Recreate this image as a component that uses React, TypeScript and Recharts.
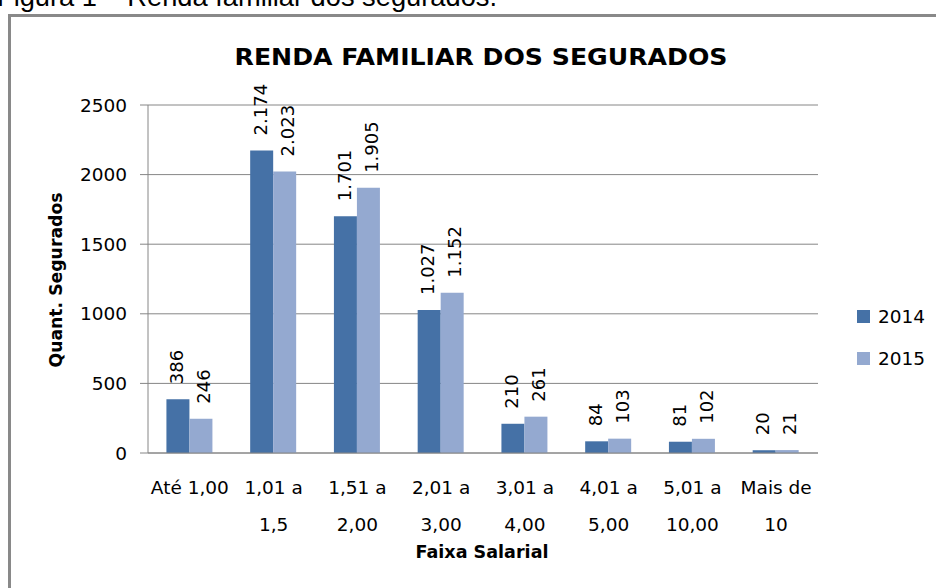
import React from 'react';
import { BarChart, Bar, XAxis, YAxis, CartesianGrid, Legend, LabelList } from 'recharts';

const categories = ['Até 1,00', '1,01 a|1,5', '1,51 a|2,00', '2,01 a|3,00', '3,01 a|4,00', '4,01 a|5,00', '5,01 a|10,00', 'Mais de|10'];
const series2014 = [386, 2174, 1701, 1027, 210, 84, 81, 20];
const series2015 = [246, 2023, 1905, 1152, 261, 103, 102, 21];
const yTicks = [0, 500, 1000, 1500, 2000, 2500];
const seriesNames = ['2014', '2015'];
const chartTitle = 'RENDA FAMILIAR DOS SEGURADOS';
const caption = 'Figura 1 – Renda familiar dos segurados.';
const yTitle = 'Quant. Segurados';
const xTitle = 'Faixa Salarial';

const COLORS = ['#4571A6', '#94A9D0'];
const FONT = '"DejaVu Sans", sans-serif';
const GRID = '#868686';

const data = categories.map((c, i) => ({ name: c, s2014: series2014[i], s2015: series2015[i] }));

const fmt = (v: number) => String(v).replace(/\B(?=(\d{3})+(?!\d))/g, '.');

const XTick = (props: any) => {
  const { x, y, payload } = props;
  const lines = String(payload.value).split('|');
  return (
    <g>
      {lines.map((l, i) => (
        <text key={i} x={x} y={y + 33 + i * 37} textAnchor="middle" fontFamily={FONT} fontSize={18.5} fill="#000">
          {l}
        </text>
      ))}
    </g>
  );
};

const makeLabel = (dx: number) => (props: any) => {
  const { x, y, width, value } = props;
  const cx = x + width / 2 + dx;
  const cy = y - 15;
  return (
    <text x={cx} y={cy} dy="0.35em" transform={`rotate(-90 ${cx} ${cy})`} textAnchor="start" fontFamily={FONT} fontSize={18} fill="#000">
      {fmt(value)}
    </text>
  );
};

const LegendContent = (props: any) => {
  const { payload } = props;
  return (
    <div style={{ fontFamily: FONT, fontSize: 18.5, color: '#000' }}>
      {(payload || []).map((p: any, i: number) => (
        <div key={i} style={{ height: 42, display: 'flex', alignItems: 'center' }}>
          <span style={{ width: 13, height: 13, background: p.color, display: 'inline-block', marginRight: 8 }} />
          <span>{p.value}</span>
        </div>
      ))}
    </div>
  );
};

export default function App() {
  return (
    <div style={{ position: 'absolute', left: 0, top: 0, width: 936, height: 588, overflow: 'hidden', background: '#fff' }}>
      <div style={{ position: 'absolute', left: 8, top: 14, width: 1000, height: 1000, border: '3px solid #898989', boxSizing: 'border-box' }} />
      <div style={{ position: 'absolute', left: 0, top: 0 }}>
        <BarChart width={936} height={588} data={data} margin={{ top: 105, right: 118, left: 0, bottom: 0 }} barCategoryGap="22%" barGap={0}>
          <CartesianGrid vertical={false} stroke={GRID} />
          <XAxis dataKey="name" height={135} axisLine={{ stroke: GRID }} tickLine={false} tick={<XTick />} interval={0} />
          <YAxis width={148} domain={[0, 2500]} ticks={yTicks} axisLine={{ stroke: GRID }} tickLine={{ stroke: GRID }} tickSize={8} tickMargin={13}
            tick={{ fontFamily: FONT, fontSize: 18.5, fill: '#000' }} />
          <Legend layout="horizontal" align="center" verticalAlign="middle" content={<LegendContent />}
            wrapperStyle={{ position: 'absolute', left: 857, top: 295, width: 79, height: 84 }} />
          <Bar dataKey="s2014" name={seriesNames[0]} fill={COLORS[0]} isAnimationActive={false}>
            <LabelList dataKey="s2014" content={makeLabel(-1)} />
          </Bar>
          <Bar dataKey="s2015" name={seriesNames[1]} fill={COLORS[1]} isAnimationActive={false}>
            <LabelList dataKey="s2015" content={makeLabel(3)} />
          </Bar>
        </BarChart>
      </div>
      <svg width={936} height={588} style={{ position: 'absolute', left: 0, top: 0, pointerEvents: 'none' }}>
        <text x={-3} y={6} fontFamily='"Liberation Sans", Arial, sans-serif' fontSize={28} textLength={500} lengthAdjust="spacingAndGlyphs" fill="#000">{caption}</text>
        <text x={481} y={65} textAnchor="middle" fontFamily={FONT} fontWeight="bold" fontSize={23} textLength={493} lengthAdjust="spacingAndGlyphs" fill="#000">{chartTitle}</text>
        <text x={56} y={280} dy="0.35em" textAnchor="middle" transform="rotate(-90 56 280)" fontFamily={FONT} fontWeight="bold" fontSize={17} textLength={175} lengthAdjust="spacingAndGlyphs" fill="#000">{yTitle}</text>
        <text x={482} y={558} textAnchor="middle" fontFamily={FONT} fontWeight="bold" fontSize={17} textLength={133} lengthAdjust="spacingAndGlyphs" fill="#000">{xTitle}</text>
      </svg>
    </div>
  );
}
